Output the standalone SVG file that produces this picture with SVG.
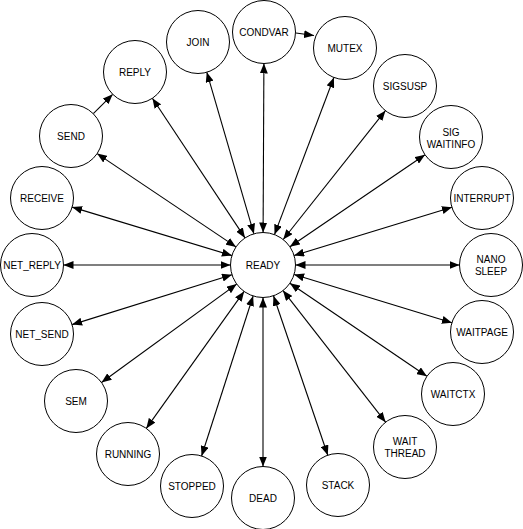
<svg xmlns="http://www.w3.org/2000/svg" width="523" height="529" viewBox="0 0 523 529">
<style>
.n circle{fill:#fff;stroke:#000;stroke-width:1}
.n text{font-family:"Liberation Sans",Arial,Helvetica,sans-serif;font-size:10px;text-anchor:middle;fill:#000}
#connectors line{stroke:#000;stroke-width:1.1}
.bi{marker-start:url(#ah);marker-end:url(#ah)}
.uni{marker-end:url(#ah)}
</style>
<defs>
<marker id="ah" viewBox="0 0 10 8" refX="10" refY="4" markerWidth="10" markerHeight="8" markerUnits="userSpaceOnUse" orient="auto-start-reverse">
<path d="M0,0 L10,4 L0,8 z" fill="#000"/>
</marker>
</defs>
<rect width="523" height="529" fill="#fff"/>
<g id="connectors">
<line class="bi" x1="263.1" y1="232.5" x2="263.9" y2="63.5"/>
<line class="bi" x1="253.9" y1="233.8" x2="206.8" y2="72.2"/>
<line class="bi" x1="245.0" y1="237.9" x2="152.4" y2="98.2"/>
<line class="bi" x1="236.0" y1="246.9" x2="97.1" y2="153.6"/>
<line class="bi" x1="231.9" y1="255.6" x2="72.1" y2="207.1"/>
<line class="bi" x1="230.5" y1="265" x2="63.5" y2="265"/>
<line class="bi" x1="232.0" y1="274.7" x2="72.1" y2="324.6"/>
<line class="bi" x1="236.7" y1="284.1" x2="101.5" y2="382.5"/>
<line class="bi" x1="244.1" y1="291.4" x2="146.3" y2="428.4"/>
<line class="bi" x1="253.1" y1="296.0" x2="201.6" y2="456.0"/>
<line class="bi" x1="263" y1="297.5" x2="263" y2="466.5"/>
<line class="bi" x1="273.5" y1="295.8" x2="327.8" y2="455.2"/>
<line class="bi" x1="283.0" y1="290.6" x2="385.6" y2="422.2"/>
<line class="bi" x1="289.9" y1="283.3" x2="426.9" y2="376.3"/>
<line class="bi" x1="294.1" y1="274.5" x2="451.9" y2="322.8"/>
<line class="bi" x1="295.5" y1="265" x2="459.5" y2="265"/>
<line class="bi" x1="294.1" y1="255.5" x2="451.9" y2="207.2"/>
<line class="bi" x1="289.9" y1="246.7" x2="425.0" y2="154.7"/>
<line class="bi" x1="283.2" y1="239.5" x2="385.4" y2="110.7"/>
<line class="bi" x1="274.5" y1="234.6" x2="333.9" y2="77.5"/>
<line class="uni" x1="93.3" y1="113.7" x2="112.7" y2="94.3"/>
<line class="uni" x1="296" y1="33" x2="314" y2="35.5"/>
</g>
<g id="ready" class="n"><circle cx="263" cy="265" r="32.5"/><text x="263" y="268.5">READY</text></g>
<g id="condvar" class="n"><circle cx="264" cy="32" r="31.5"/><text x="264" y="35.5">CONDVAR</text></g>
<g id="join" class="n"><circle cx="198" cy="42" r="31.5"/><text x="198" y="45.5">JOIN</text></g>
<g id="reply" class="n"><circle cx="135" cy="72" r="31.5"/><text x="135" y="75.5">REPLY</text></g>
<g id="send" class="n"><circle cx="71" cy="136" r="31.5"/><text x="71" y="139.5">SEND</text></g>
<g id="receive" class="n"><circle cx="42" cy="198" r="31.5"/><text x="42" y="201.5">RECEIVE</text></g>
<g id="net_reply" class="n"><circle cx="32" cy="265" r="31.5"/><text x="32" y="268.5">NET_REPLY</text></g>
<g id="net_send" class="n"><circle cx="42" cy="334" r="31.5"/><text x="42" y="337.5">NET_SEND</text></g>
<g id="sem" class="n"><circle cx="76" cy="401" r="31.5"/><text x="76" y="404.5">SEM</text></g>
<g id="running" class="n"><circle cx="128" cy="454" r="31.5"/><text x="128" y="457.5">RUNNING</text></g>
<g id="stopped" class="n"><circle cx="192" cy="486" r="31.5"/><text x="192" y="489.5">STOPPED</text></g>
<g id="dead" class="n"><circle cx="263" cy="498" r="31.5"/><text x="263" y="501.5">DEAD</text></g>
<g id="stack" class="n"><circle cx="338" cy="485" r="31.5"/><text x="338" y="488.5">STACK</text></g>
<g id="waitthread" class="n"><circle cx="405" cy="447" r="31.5"/><text x="405" y="444.5">WAIT</text><text x="405" y="456.5">THREAD</text></g>
<g id="waitctx" class="n"><circle cx="453" cy="394" r="31.5"/><text x="453" y="397.5">WAITCTX</text></g>
<g id="waitpage" class="n"><circle cx="482" cy="332" r="31.5"/><text x="482" y="335.5">WAITPAGE</text></g>
<g id="nanosleep" class="n"><circle cx="491" cy="265" r="31.5"/><text x="491" y="262.5">NANO</text><text x="491" y="274.5">SLEEP</text></g>
<g id="interrupt" class="n"><circle cx="482" cy="198" r="31.5"/><text x="482" y="201.5">INTERRUPT</text></g>
<g id="sigwaitinfo" class="n"><circle cx="451" cy="137" r="31.5"/><text x="451" y="135.5">SIG</text><text x="451" y="147.5">WAITINFO</text></g>
<g id="sigsusp" class="n"><circle cx="405" cy="86" r="31.5"/><text x="405" y="89.5">SIGSUSP</text></g>
<g id="mutex" class="n"><circle cx="345" cy="48" r="31.5"/><text x="345" y="51.5">MUTEX</text></g>
</svg>
